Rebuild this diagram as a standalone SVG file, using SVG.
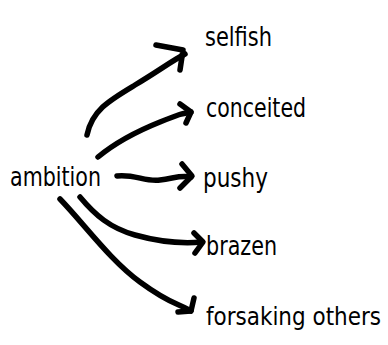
<svg xmlns="http://www.w3.org/2000/svg" width="388" height="345" viewBox="0 0 388 345">
<style>
.lbl{font-family:"DejaVu Sans Condensed","DejaVu Sans",sans-serif;font-size:26px;fill:#000}
.c{fill:none;stroke:#000;stroke-width:5.5;stroke-linecap:round;stroke-linejoin:round}
</style>
<rect width="388" height="345" fill="#fff"/>
<g id="connectors">
<path class="c" d="M87 135 C92 110 110 100 135 85 S170 62 185 54"/>
<path class="c" d="M156 45 L183 50 L180 70"/>
<path class="c" d="M98 157 C115 143 140 130 160 122 S180 114 191 112"/>
<path class="c" d="M180 104 L191 112 L186 123"/>
<path class="c" d="M117 176 C135 174 145 182 160 180 S180 175 191 177"/>
<path class="c" d="M182 164 L192 176 L180 188"/>
<path class="c" d="M80 197 C95 215 110 228 135 235 S180 244 202 242"/>
<path class="c" d="M194 233 L203 242 L195 253"/>
<path class="c" d="M60 199 C85 225 110 260 140 282 S175 302 191 311"/>
<path class="c" d="M194 298 L191 311 L178 312"/>
</g>
<g id="ambition"><text class="lbl" x="10" y="186" textLength="91" lengthAdjust="spacingAndGlyphs">ambition</text></g>
<g id="selfish"><text class="lbl" x="205" y="46" textLength="67" lengthAdjust="spacingAndGlyphs">selfish</text></g>
<g id="conceited"><text class="lbl" x="206" y="117" textLength="100" lengthAdjust="spacingAndGlyphs">conceited</text></g>
<g id="pushy"><text class="lbl" x="203" y="187" textLength="65" lengthAdjust="spacingAndGlyphs">pushy</text></g>
<g id="brazen"><text class="lbl" x="206" y="255" textLength="71" lengthAdjust="spacingAndGlyphs">brazen</text></g>
<g id="forsaking_others"><text class="lbl" x="206" y="325" style="font-size:24px" textLength="175" lengthAdjust="spacingAndGlyphs">forsaking others</text></g>
</svg>
